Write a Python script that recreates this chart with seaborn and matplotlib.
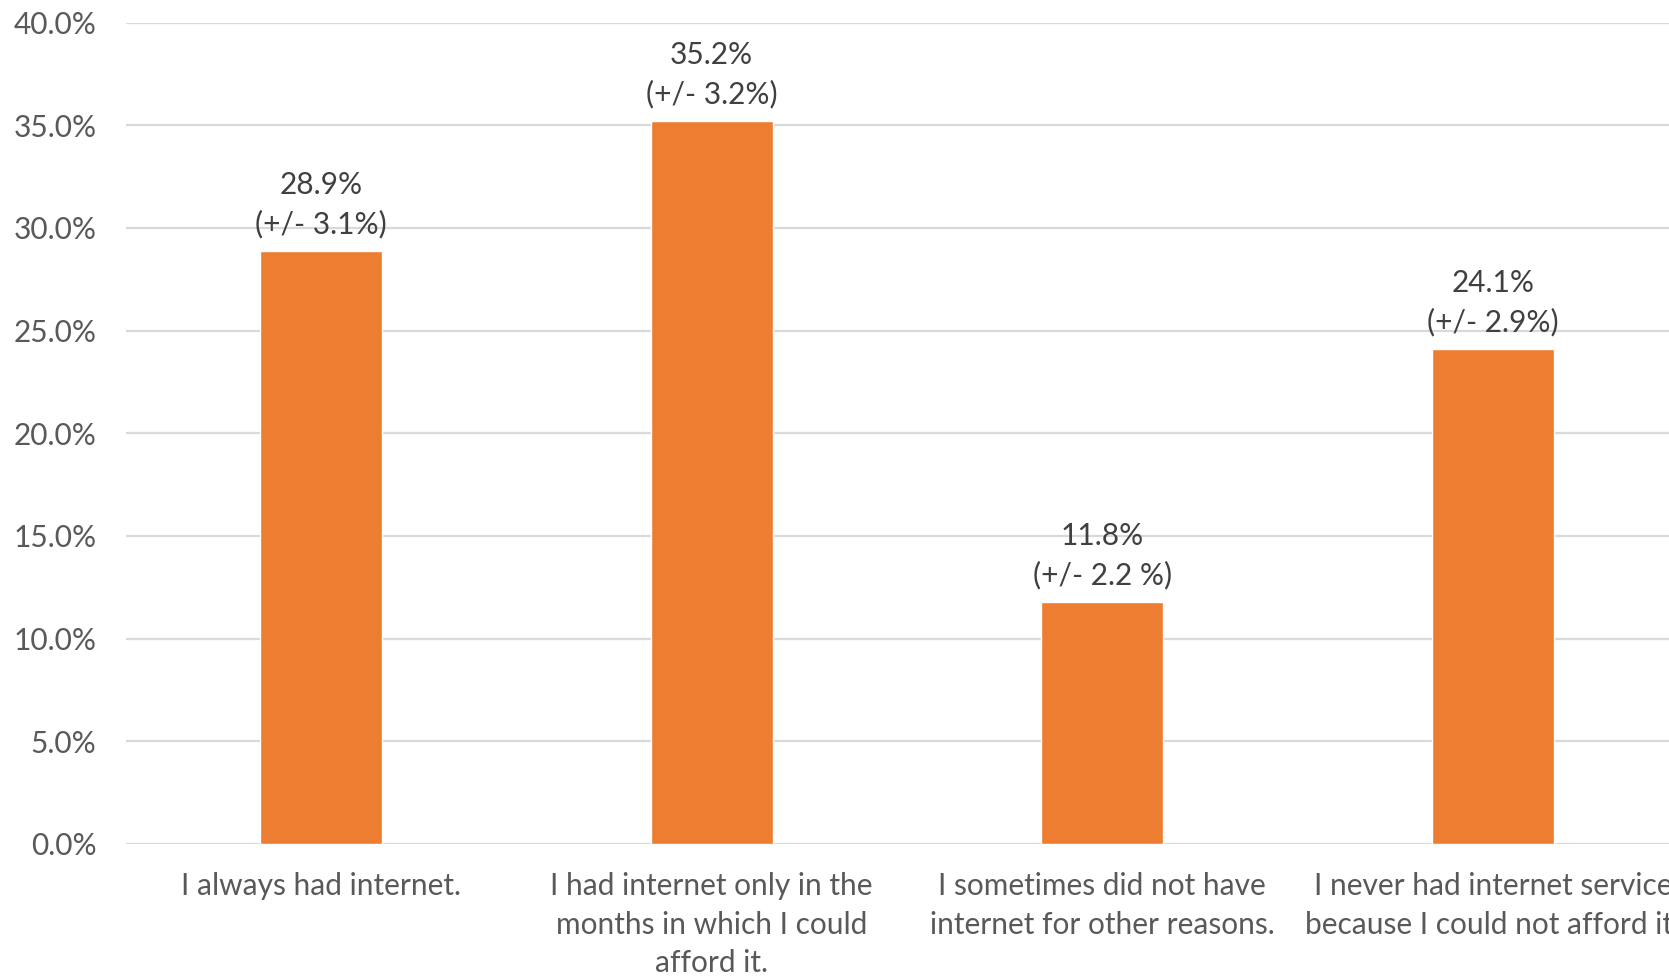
import matplotlib
matplotlib.use("Agg")
import matplotlib.pyplot as plt
import seaborn as sns
import pandas as pd
from matplotlib.ticker import FuncFormatter

# ── DATA ──────────────────────────────────────────────────────────────────────
categories = [
    "I always had internet.",
    "I had internet only in the\nmonths in which I could\nafford it.",
    "I sometimes did not have\ninternet for other reasons.",
    "I never had internet service\nbecause I could not afford it.",
]
shares = [28.9, 35.2, 11.8, 24.1]
margins = ["3.1%", "3.2%", "2.2 %", "2.9%"]
y_ticks = [0, 5, 10, 15, 20, 25, 30, 35, 40]

# ── STYLE ─────────────────────────────────────────────────────────────────────
ORANGE = "#ED7D31"
GRID = "#D9D9D9"
TICK = "#595959"
LABEL = "#404040"
FS = 21.5

sns.set_theme(style="white")
plt.rcParams["font.family"] = ["Lato", "DejaVu Sans"]

df = pd.DataFrame({"category": categories, "share": shares})

fig = plt.figure(figsize=(16.69, 9.76), dpi=100)
# the chart runs past the right edge, as in the source screenshot
ax = fig.add_axes([0.0753, 0.1353, 0.9362, 0.8415])

sns.barplot(data=df, x="category", y="share", color=ORANGE, width=0.312,
            saturation=1, ax=ax, zorder=3)

ax.set_ylim(0, 40)
ax.set_yticks(y_ticks)
ax.yaxis.set_major_formatter(FuncFormatter(lambda v, _: f"{v:.1f}%"))
ax.grid(axis="y", color=GRID, linewidth=1.6, zorder=0)
ax.set_axisbelow(True)
for s in ax.spines.values():
    s.set_visible(False)

ax.set_xlabel("")
ax.set_ylabel("")
ax.tick_params(axis="y", length=0, pad=21, labelsize=FS, labelcolor=TICK)
ax.tick_params(axis="x", length=0, pad=20, labelsize=FS, labelcolor=TICK)
for t in ax.get_xticklabels():
    t.set_linespacing(1.47)

labels = [f"{v:.1f}%\n(+/- {m})" for v, m in zip(shares, margins)]
texts = ax.bar_label(ax.containers[0], labels=labels, padding=9,
                     fontsize=FS, color=LABEL)
for t in texts:
    t.set_linespacing(1.45)

fig.savefig("out.png", dpi=100, facecolor="white")
